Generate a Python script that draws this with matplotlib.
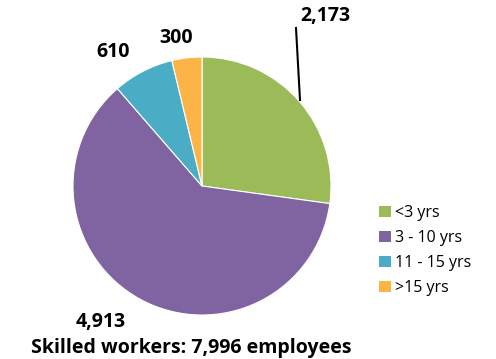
import matplotlib.pyplot as plt
from matplotlib.patches import Patch

# Skilled workers by length of service
groups = ['<3 yrs', '3 - 10 yrs', '11 - 15 yrs', '>15 yrs']
counts = [2173, 4913, 610, 300]
colors = ['#9BBB59', '#8064A2', '#4BACC6', '#FDB447']
total = 7996

W, H = 496, 359
plt.rcParams['font.family'] = ['Open Sans', 'DejaVu Sans']

fig = plt.figure(figsize=(W / 100, H / 100), dpi=100)
ax = fig.add_axes([0, 0, 1, 1])

# pie in pixel-like coordinates (y measured from the bottom)
cx, cy, r = 202, H - 186, 129
ax.pie(counts, colors=colors, startangle=90, counterclock=False,
       center=(cx, cy), radius=r,
       wedgeprops=dict(edgecolor='white', linewidth=0.8))

ax.set_xlim(0, W)
ax.set_ylim(0, H)
ax.set_aspect('equal')
ax.axis('off')

# value labels (centre x, baseline y)
label_pos = [(325, 21), (101, 327), (113, 57), (176, 43)]
for v, (x, y) in zip(counts, label_pos):
    ax.text(x, H - y, f'{v:,}', ha='center', va='baseline',
            fontsize=14, fontweight='bold', color='black')

# leader line for the first wedge
ax.plot([296, 300], [H - 28, H - 100], color='black', lw=1.5)

ax.text(191, H - 353, f'Skilled workers: {total:,} employees',
        ha='center', va='baseline', fontsize=14, fontweight='bold')

handles = [Patch(facecolor=c, edgecolor='none') for c in colors]
ax.legend(handles, groups, loc='upper left',
          bbox_to_anchor=(365 / W, 1 - 191 / H), frameon=False,
          fontsize=11.5, handlelength=0.7, handleheight=0.7,
          handletextpad=0.3, labelspacing=0.55)

fig.savefig('out.png', dpi=100)
